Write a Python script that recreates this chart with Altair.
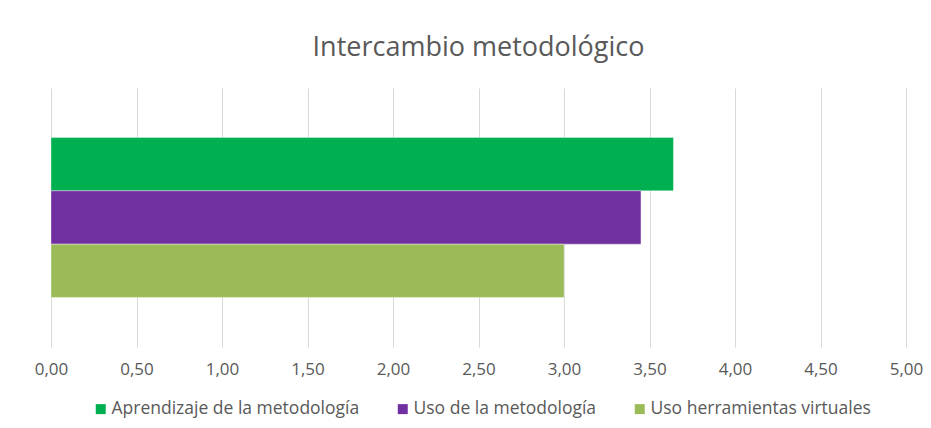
import altair as alt
import pandas as pd

categories = ["Aprendizaje de la metodología", "Uso de la metodología", "Uso herramientas virtuales"]
values = [3.64, 3.45, 3.00]
colors = ["#00B050", "#7030A0", "#9BBB59"]
tick_values = [0, 0.5, 1, 1.5, 2, 2.5, 3, 3.5, 4, 4.5, 5]

df = pd.DataFrame({"serie": categories, "valor": values})

FONT = "Open Sans"

chart = alt.Chart(df).mark_bar(stroke="#ffffff", strokeWidth=0.6, strokeOpacity=0.6).encode(
    x=alt.X(
        "valor:Q",
        scale=alt.Scale(domain=[0, 5], nice=False),
        axis=alt.Axis(
            values=tick_values,
            labelExpr="replace(format(datum.value, '.2f'), '.', ',')",
            grid=True,
            gridColor="#d9d9d9",
            gridWidth=1,
            domain=False,
            ticks=False,
            title=None,
            labelFlush=False,
            labelPadding=14,
            labelFontSize=17,
            labelColor="#595959",
            labelFont=FONT,
        ),
    ),
    y=alt.Y(
        "serie:N",
        sort=categories,
        axis=None,
        scale=alt.Scale(paddingInner=0, paddingOuter=0.93),
    ),
    color=alt.Color(
        "serie:N",
        sort=categories,
        scale=alt.Scale(domain=categories, range=colors),
        legend=alt.Legend(
            orient="none",
            legendX=41,
            legendY=312,
            direction="horizontal",
            title=None,
            symbolType="square",
            symbolSize=100,
            symbolStrokeWidth=0,
            labelFontSize=17.5,
            labelColor="#595959",
            labelFont=FONT,
            labelOffset=2,
            columnPadding=34,
            labelLimit=400,
        ),
    ),
).properties(
    width=855,
    height=259,
    title=alt.TitleParams(
        text="Intercambio metodológico",
        fontSize=27,
        font=FONT,
        fontWeight="normal",
        color="#595959",
        offset=26,
    ),
    padding={"left": 26, "top": 26, "right": 0, "bottom": 5},
).configure_view(stroke=None)

chart.save("out.html", embed_options={"renderer": "svg", "actions": False})
